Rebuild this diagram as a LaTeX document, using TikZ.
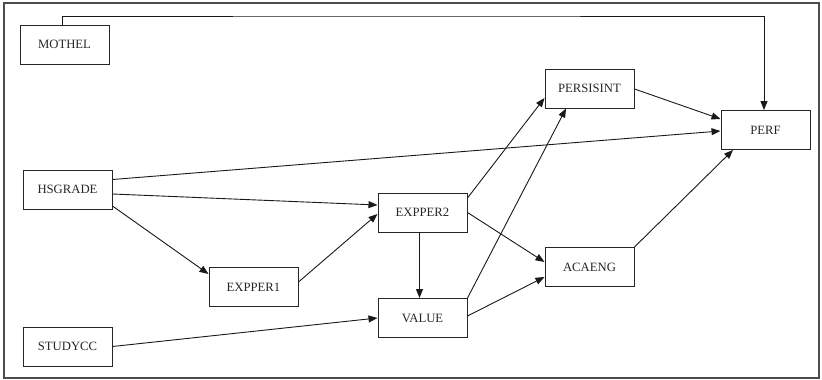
\documentclass[tikz,border=0pt]{standalone}
\usepackage{fontspec}
\setmainfont{Liberation Serif}
\usetikzlibrary{arrows.meta}
\begin{document}
\begin{tikzpicture}[x=1pt, y=-1pt,
    box/.style = {draw=black!85, line width=1pt, minimum width=89pt, minimum height=39pt, inner sep=0pt, text=black!85, font=\fontsize{12.7}{15}\selectfont},
    edge/.style = {draw=black!90, line width=0.9pt, -{Triangle[length=9pt,width=7pt]}}]
    \useasboundingbox (0,0) rectangle (822,380);
    \draw[black!70, line width=1.2pt] (4,3) rectangle (819,378);
    \node[box] (mothel) at (64.5,44.5) {MOTHEL};
    \node[box] (persis) at (589.5,88.5) {PERSISINT};
    \node[box] (perf) at (765.5,130) {PERF};
    \node[box] (hsgrade) at (67.5,189.5) {HSGRADE};
    \node[box] (expper2) at (422.5,212.5) {EXPPER2};
    \node[box] (expper1) at (253.5,287) {EXPPER1};
    \node[box] (value) at (422.5,318) {VALUE};
    \node[box] (acaeng) at (589.5,267) {ACAENG};
    \node[box] (studycc) at (67.5,346.5) {STUDYCC};
    \coordinate (top) at (400,16);
    \draw[edge] ([xshift=-2.5pt]mothel.north) |- (top) -| ([xshift=-1.5pt]perf.north);
    \draw[edge] ([yshift=10pt]hsgrade.east) -- ([yshift=-1pt]perf.west);
    \draw[edge] ([yshift=-4.5pt]hsgrade.east) -- ([yshift=7.5pt]expper2.west);
    \draw[edge] ([yshift=-16.5pt]hsgrade.east) -- ([yshift=13pt]expper1.west);
    \draw[edge] ([yshift=5pt]expper1.east) -- ([yshift=-1.5pt]expper2.west);
    \draw[edge] (studycc.east) -- (value.west);
    \draw[edge] ([xshift=-3pt]expper2.south) -- ([xshift=-3pt]value.north);
    \draw[edge] ([yshift=14.5pt]expper2.east) -- ([yshift=-9.5pt]persis.west);
    \draw[edge] (value.north east) -- ([xshift=-23.5pt]persis.south);
    \draw[edge] (expper2.east) -- ([yshift=5pt]acaeng.west);
    \draw[edge] ([yshift=2pt]value.east) -- ([yshift=-10pt]acaeng.west);
    \draw[edge] (acaeng.north east) -- ([xshift=-32.5pt]perf.south);
    \draw[edge] ([yshift=-0.5pt]persis.east) -- ([yshift=11pt]perf.west);
\end{tikzpicture}
\end{document}
